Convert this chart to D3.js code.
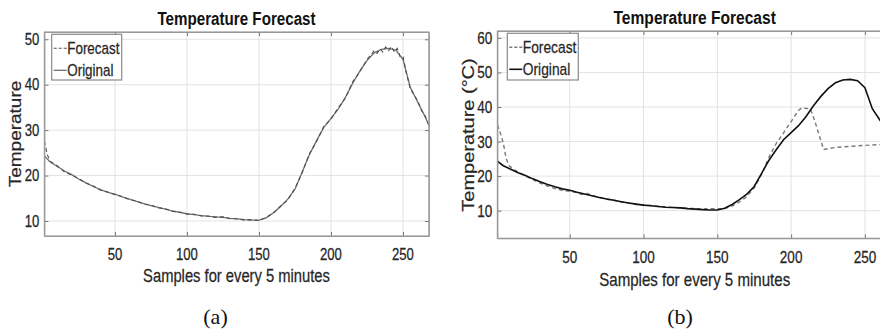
<!DOCTYPE html>
<html>
<head>
<meta charset="utf-8">
<script src="https://cdn.jsdelivr.net/npm/d3@7"></script>
<style>
  html, body { margin: 0; padding: 0; background: #fff; }
  svg { display: block; }
</style>
</head>
<body>
<svg id="chart" width="880" height="335"></svg>
<script>
// ---------------- DATA ----------------
const samples = [1,5,10,15,20,25,30,35,40,45,50,55,60,65,70,75,80,85,90,95,100,105,110,115,120,125,130,135,140,145,150,155,160,165,170,175,180,185,190,195,200,205,210,215,220,225,230,235,240,245,250,255,260,265,268];
const original = [24.3,23.0,22.0,21.0,20.2,19.2,18.4,17.6,16.9,16.3,15.9,15.3,14.8,14.3,13.8,13.4,13.0,12.6,12.2,11.9,11.6,11.4,11.2,11.0,10.9,10.8,10.6,10.45,10.3,10.2,10.2,10.7,11.8,13.2,14.8,17.0,20.8,24.6,27.7,30.6,32.6,34.6,37.2,40.3,43.0,45.3,47.0,47.8,48.0,47.6,45.6,39.5,36.3,33.2,31.0];

const forecastASamples = [1,3,5,10,15,20,25,30,35,40,45,50,55,60,65,70,75,80,85,90,95,100,105,110,115,120,125,130,135,140,145,150,155,160,165,170,175,180,185,190,195,200,205,210,215,220,225,228,230,232,234,236,238,240,242,244,246,248,250,252,255,258,260,263,265,268];
const forecastAValues  = [27.6,24.6,23.2,22.1,20.8,20.1,19.3,18.3,17.7,16.8,16.4,15.8,15.4,14.7,14.4,13.7,13.5,12.9,12.7,12.1,12.0,11.5,11.5,11.1,11.1,10.8,10.9,10.5,10.5,10.2,10.3,10.1,10.8,11.7,13.3,14.6,17.2,20.6,24.8,27.5,30.8,32.4,34.9,37.0,40.6,42.8,45.6,46.6,47.5,46.9,47.9,47.2,48.3,47.5,48.4,47.2,48.0,46.2,46.3,43.0,39.2,37.6,36.6,34.2,33.4,31.2];

const forecastBSamples = [1,3,5,7,9,12,15,20,25,30,35,40,45,50,55,58,62,65,70,75,80,85,90,95,100,105,110,115,120,125,130,135,140,145,150,155,160,165,170,175,180,185,190,195,200,205,207,213,216,222,230,240,250,260,268];
const forecastBValues  = [34.8,32.5,29.5,25.0,23.0,22.0,21.2,20.0,19.0,18.0,17.1,16.4,15.9,15.6,15.2,14.7,15.0,14.4,13.9,13.3,13.0,12.5,12.2,11.8,11.6,11.5,11.2,11.1,10.9,10.8,10.7,10.6,10.6,10.6,10.6,10.6,11.3,12.5,14.1,16.6,20.5,25.5,29.5,32.6,35.8,39.0,39.7,39.5,36.0,27.7,28.3,28.6,28.9,29.1,29.3];

const xTicks = [50,100,150,200,250];
const yTicksA = [10,20,30,40,50];
const yTicksB = [10,20,30,40,50,60];
const titleText = "Temperature Forecast";
const xLabelText = "Samples for every 5 minutes";
const yLabelA = "Temperature";
const yLabelB = "Temperature (°C)";
const legendLabels = ["Forecast", "Original"];
const captions = ["(a)", "(b)"];

// ---------------- DRAWING ----------------
const svg = d3.select("#chart");
svg.append("rect").attr("width", 880).attr("height", 335).attr("fill", "#fff");
const SX = 0.82; // horizontal compression of the original figure
const SANS = "'Liberation Sans', Arial, Helvetica, sans-serif";

function txt(g, x, y, str, o) {
  const t = g.append("text")
    .attr("x", 0).attr("y", 0)
    .attr("font-family", o.family || SANS)
    .attr("font-size", o.size)
    .attr("font-weight", o.weight || "normal")
    .attr("fill", o.fill || "#262626")
    .attr("text-anchor", o.anchor || "middle")
    .attr("dy", o.dy || 0)
    .attr("transform", `translate(${x},${y}) scale(${o.sx === undefined ? SX : o.sx},1)` + (o.rotate ? " rotate(-90)" : ""))
    .text(str);
  if (o.stroke) t.attr("stroke", o.fill || "#262626").attr("stroke-width", o.stroke);
  return t;
}

function panel(cfg) {
  const g = svg.append("g");
  const x = d3.scaleLinear().domain([1, 268]).range(cfg.xr);
  const y = d3.scaleLinear().domain(cfg.yd).range(cfg.yr);
  const [x0, x1] = cfg.xr, [yb, yt] = cfg.yr;

  const clipId = "clip" + cfg.id;
  svg.append("clipPath").attr("id", clipId).append("rect")
    .attr("x", x0).attr("y", yt).attr("width", x1 - x0).attr("height", yb - yt);

  // grid
  const grid = g.append("g").attr("stroke", "#e3e3e3").attr("stroke-width", 1);
  xTicks.forEach(v => grid.append("line").attr("x1", x(v)).attr("x2", x(v)).attr("y1", yt).attr("y2", yb));
  cfg.yTicks.forEach(v => grid.append("line").attr("x1", x0).attr("x2", x1).attr("y1", y(v)).attr("y2", y(v)));

  // lines
  const lineF = d3.line().x(d => x(d[0])).y(d => y(d[1]));
  const plot = g.append("g").attr("clip-path", `url(#${clipId})`);
  const orig = samples.map((s, i) => [s, original[i]]);
  const fc = cfg.fx.map((s, i) => [s, cfg.fv[i]]);
  const drawO = () => plot.append("path").datum(orig).attr("d", lineF).attr("fill", "none")
      .attr("stroke", cfg.oColor).attr("stroke-width", cfg.oWidth);
  const drawF = () => plot.append("path").datum(fc).attr("d", lineF).attr("fill", "none")
      .attr("stroke", cfg.fColor).attr("stroke-width", cfg.fWidth).attr("stroke-dasharray", "4,3");
  if (cfg.forecastFirst) { drawF(); drawO(); } else { drawO(); drawF(); }

  // axes via d3 (all four sides), inward ticks
  const ax = g.append("g").attr("transform", `translate(0,${yb})`)
    .call(d3.axisBottom(x).tickValues(xTicks).tickSizeInner(-4).tickSizeOuter(0).tickFormat(""));
  const ay = g.append("g").attr("transform", `translate(${x0},0)`)
    .call(d3.axisLeft(y).tickValues(cfg.yTicks).tickSizeInner(-4).tickSizeOuter(0).tickFormat(""));
  const axT = g.append("g").attr("transform", `translate(0,${yt})`)
    .call(d3.axisTop(x).tickValues(xTicks).tickSizeInner(-4).tickSizeOuter(0).tickFormat(""));
  const ayR = g.append("g").attr("transform", `translate(${x1},0)`)
    .call(d3.axisRight(y).tickValues(cfg.yTicks).tickSizeInner(-4).tickSizeOuter(0).tickFormat(""));
  [ax, ay, axT, ayR].forEach(a => {
    a.selectAll("path").attr("stroke", "#9a9a9a");
    a.selectAll("line").attr("stroke", "#777");
  });
  // frame
  g.append("rect").attr("x", x0).attr("y", yt).attr("width", x1 - x0).attr("height", yb - yt)
    .attr("fill", "none").attr("stroke", "#9a9a9a").attr("stroke-width", 1.2);

  // tick labels
  xTicks.forEach(v => txt(g, x(v), cfg.xTickY, String(v), { size: cfg.tickSize, stroke: 0.25 }));
  cfg.yTicks.forEach(v => txt(g, x0 - 5, y(v), String(v), { size: cfg.tickSize, anchor: "end", dy: "0.36em", stroke: 0.25 }));

  // title, labels
  txt(g, cfg.titleX, cfg.titleY, titleText, { size: cfg.titleSize, weight: "bold", fill: "#111" });
  txt(g, cfg.titleX, cfg.xLabY, xLabelText, { size: cfg.labSize, stroke: 0.25 });
  txt(g, cfg.yLabX, cfg.yLabY, cfg.yLabel, { size: cfg.yLabSize, rotate: true, stroke: 0.25 });

  // legend
  const L = cfg.legend;
  g.append("rect").attr("x", L.x).attr("y", L.y).attr("width", L.w).attr("height", L.h)
    .attr("fill", "#fff").attr("stroke", "#8a8a8a").attr("stroke-width", 1.2);
  g.append("line").attr("x1", L.x + 2).attr("x2", L.x + 15).attr("y1", L.y + 14).attr("y2", L.y + 14)
    .attr("stroke", cfg.fColor).attr("stroke-width", cfg.fWidth).attr("stroke-dasharray", "3,2");
  g.append("line").attr("x1", L.x + 2).attr("x2", L.x + 15).attr("y1", L.y + 36).attr("y2", L.y + 36)
    .attr("stroke", cfg.oColor).attr("stroke-width", cfg.oWidth);
  txt(g, L.x + 15.5, L.y + 19.5, legendLabels[0], { size: cfg.legSize, anchor: "start", stroke: 0.25 });
  txt(g, L.x + 15.5, L.y + 41.5, legendLabels[1], { size: cfg.legSize, anchor: "start", stroke: 0.25 });

  // caption
  txt(svg, cfg.capX, 323.6, cfg.caption, { size: 22, sx: 1, family: "'Liberation Serif', 'Times New Roman', serif", fill: "#111" });
}

panel({
  id: "A", xr: [44.4, 428.9], yd: [6.7, 51.6], yr: [236, 32], yTicks: yTicksA,
  fx: forecastASamples, fv: forecastAValues,
  oColor: "#707070", oWidth: 1.3, fColor: "#4e4e4e", fWidth: 1.1, forecastFirst: false,
  tickSize: 16, xTickY: 260, titleX: 236.5, titleY: 25, titleSize: 18.5,
  xLabY: 281.5, labSize: 18, yLabX: 21, yLabY: 134, yLabel: yLabelA, yLabSize: 19,
  legend: { x: 51.7, y: 34.3, w: 70, h: 45.7 }, legSize: 16.4,
  capX: 215.5, caption: captions[0]
});

panel({
  id: "B", xr: [497.4, 891.5], yd: [2, 62], yr: [238.3, 31], yTicks: yTicksB,
  fx: forecastBSamples, fv: forecastBValues,
  oColor: "#111", oWidth: 1.6, fColor: "#7a7a7a", fWidth: 1.4, forecastFirst: true,
  tickSize: 16.5, xTickY: 262.5, titleX: 694.7, titleY: 24, titleSize: 19,
  xLabY: 286, labSize: 18.4, yLabX: 474, yLabY: 135, yLabel: yLabelB, yLabSize: 20,
  legend: { x: 507.3, y: 33.3, w: 71, h: 46.7 }, legSize: 16.8,
  capX: 680, caption: captions[1]
});
</script>
</body>
</html>
